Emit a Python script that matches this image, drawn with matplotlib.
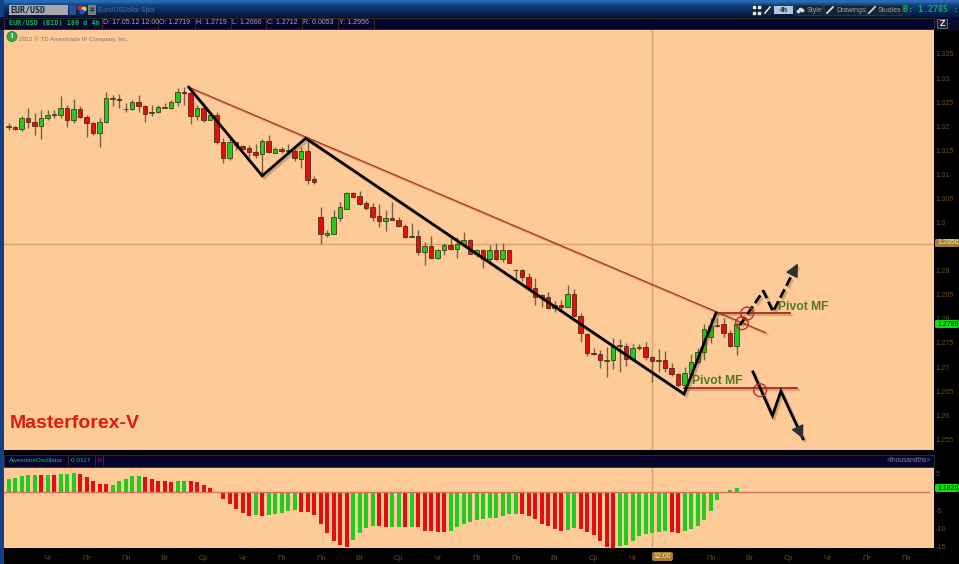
import numpy as np
import matplotlib
matplotlib.use("Agg")
import matplotlib.pyplot as plt
import matplotlib.patheffects as pe
from matplotlib.patches import Rectangle, Circle, FancyBboxPatch

W, H = 959, 564

# ---- candles: one row per bar = open, high, low, close
opens = [1.3198,1.3199,1.3195,1.3216,1.3208,1.3200,1.3216,1.3223,1.3224,1.3237,1.3213,1.3236,1.3219,1.3206,1.3185,1.3208,1.3256,1.3256,1.3235,1.3235,
 1.3250,1.3241,1.3227,1.3229,1.3238,1.3237,1.3250,1.3270,1.3268,1.3222,1.3237,1.3213,1.3223,1.3168,1.3133,1.3167,1.3159,1.3154,1.3147,1.3142,
 1.3170,1.3145,1.3153,1.3149,1.3149,1.3132,1.3148,1.3090,1.3012,1.2975,1.2977,1.3010,1.3029,1.3062,1.3055,1.3041,1.3032,1.3014,1.3003,1.3009,
 1.3005,1.2993,1.2970,1.2973,1.2939,1.2952,1.2927,1.2942,1.2953,1.2946,1.2955,1.2963,1.2935,1.2944,1.2925,1.2943,1.2925,1.2942,1.2901,1.2902,
 1.2887,1.2865,1.2849,1.2846,1.2822,1.2829,1.2825,1.2852,1.2806,1.2769,1.2730,1.2727,1.2713,1.2714,1.2743,1.2744,1.2716,1.2740,1.2741,1.2721,
 1.2713,1.2714,1.2699,1.2686,1.2663,1.2686,1.2710,1.2731,1.2763,1.2785,1.2789,1.2770,1.2744]
highs = [1.3207,1.3201,1.3222,1.3237,1.3227,1.3234,1.3234,1.3234,1.3263,1.3243,1.3256,1.3241,1.3223,1.3209,1.3216,1.3270,1.3265,1.3267,1.3248,1.3254,
 1.3265,1.3244,1.3243,1.3244,1.3248,1.3254,1.3279,1.3282,1.3279,1.3244,1.3248,1.3230,1.3230,1.3175,1.3175,1.3168,1.3161,1.3161,1.3163,1.3173,
 1.3181,1.3156,1.3156,1.3163,1.3152,1.3157,1.3178,1.3097,1.3033,1.2985,1.3025,1.3043,1.3064,1.3064,1.3066,1.3045,1.3040,1.3039,1.3026,1.3043,
 1.3012,1.2998,1.3000,1.2985,1.2959,1.2972,1.2946,1.2958,1.2967,1.2971,1.2981,1.2965,1.2946,1.2946,1.2953,1.2957,1.2958,1.2943,1.2903,1.2903,
 1.2896,1.2884,1.2852,1.2856,1.2838,1.2839,1.2870,1.2863,1.2813,1.2771,1.2739,1.2735,1.2742,1.2760,1.2758,1.2749,1.2748,1.2748,1.2753,1.2722,
 1.2737,1.2734,1.2708,1.2688,1.2701,1.2728,1.2739,1.2789,1.2801,1.2801,1.2801,1.2777,1.2794]
lows = [1.3192,1.3192,1.3189,1.3196,1.3182,1.3174,1.3213,1.3216,1.3218,1.3199,1.3206,1.3218,1.3177,1.3182,1.3157,1.3207,1.3241,1.3237,1.3230,1.3234,
 1.3230,1.3208,1.3221,1.3227,1.3237,1.3235,1.3241,1.3244,1.3205,1.3213,1.3209,1.3212,1.3164,1.3123,1.3130,1.3151,1.3152,1.3137,1.3133,1.3099,
 1.3144,1.3144,1.3144,1.3144,1.3128,1.3114,1.3081,1.3080,1.2956,1.2969,1.2976,1.3004,1.3029,1.3052,1.3036,1.3025,1.3004,1.2990,1.2982,1.3005,
 1.2990,1.2967,1.2969,1.2933,1.2912,1.2926,1.2924,1.2933,1.2943,1.2926,1.2953,1.2935,1.2928,1.2905,1.2915,1.2922,1.2919,1.2915,1.2883,1.2879,
 1.2860,1.2829,1.2825,1.2821,1.2815,1.2818,1.2824,1.2803,1.2753,1.2722,1.2726,1.2697,1.2680,1.2695,1.2690,1.2702,1.2715,1.2735,1.2715,1.2668,
 1.2690,1.2690,1.2681,1.2659,1.2658,1.2683,1.2708,1.2715,1.2749,1.2784,1.2762,1.2742,1.2725]
closes = [1.3200,1.3195,1.3216,1.3208,1.3200,1.3217,1.3223,1.3225,1.3237,1.3213,1.3235,1.3219,1.3207,1.3185,1.3208,1.3259,1.3259,1.3254,1.3236,1.3251,
 1.3241,1.3226,1.3229,1.3239,1.3239,1.3250,1.3270,1.3268,1.3222,1.3237,1.3213,1.3223,1.3167,1.3133,1.3168,1.3160,1.3153,1.3146,1.3141,1.3169,
 1.3146,1.3153,1.3149,1.3151,1.3133,1.3149,1.3088,1.3084,1.2976,1.2978,1.3011,1.3032,1.3061,1.3054,1.3039,1.3030,1.3012,1.3003,1.3009,1.3006,
 1.2992,1.2969,1.2973,1.2939,1.2951,1.2927,1.2943,1.2953,1.2946,1.2955,1.2963,1.2935,1.2944,1.2925,1.2942,1.2925,1.2942,1.2917,1.2902,1.2887,
 1.2865,1.2846,1.2846,1.2822,1.2829,1.2825,1.2851,1.2805,1.2770,1.2729,1.2727,1.2714,1.2715,1.2742,1.2745,1.2716,1.2740,1.2741,1.2720,1.2713,
 1.2714,1.2698,1.2686,1.2663,1.2687,1.2710,1.2731,1.2779,1.2785,1.2788,1.2770,1.2744,1.2790]

# ---- Awesome Oscillator (thousandths)
ao_values = [3.5,3.9,4.4,4.8,4.8,4.6,4.8,4.8,5.0,5.0,5.2,5.1,4.3,3.1,2.3,2.1,2.0,3.0,3.5,4.4,
 4.4,4.1,3.5,3.1,3.1,2.7,3.1,3.1,3.1,2.7,2.0,1.2,0.0,-1.9,-3.4,-4.6,-5.8,-6.6,-6.5,-6.7,
 -6.3,-6.2,-5.8,-5.4,-5.1,-5.5,-5.6,-6.4,-9.0,-11.5,-13.6,-14.8,-15.2,-13.4,-11.4,-10.0,-9.5,-9.5,-9.8,-9.8,
 -9.7,-9.6,-9.6,-9.7,-10.7,-10.9,-11.0,-11.2,-10.7,-9.8,-8.9,-8.2,-7.7,-7.5,-7.1,-7.1,-6.7,-6.2,-6.0,-6.1,
 -6.6,-7.5,-8.9,-9.5,-10.3,-10.8,-10.5,-9.9,-10.3,-11.0,-12.0,-13.7,-15.3,-15.5,-15.1,-14.7,-13.7,-12.3,-11.7,-11.5,
 -11.1,-10.9,-11.0,-11.3,-10.8,-10.4,-9.4,-7.9,-5.4,-2.3,-0.4,0.6,1.1]
ao_colors = list("gggggrgrgggrrrrrgggggrrrrrggrrrrrrrrrrgrgggggrrrrrrrrggggrrggrgrrrrrgggggggggggrrrrrrrggrrrrrrggggggggrrggggggggg")

# ---- drawings on the chart (bar number, price)
trend_x = [27.7, 39.0, 45.7, 103.9, 108.8]
trend_y = [1.3281, 1.3097, 1.3175, 1.2644, 1.2812]
resist_x = [27.7, 116.5]
resist_y = [1.3281, 1.2771]
pivot_hi_x = [108.8, 120.2]
pivot_hi_y = [1.2812, 1.2812]
pivot_lo_x = [103.9, 121.3]
pivot_lo_y = [1.2656, 1.2656]
up_x = [112.5, 116.1, 117.6, 121.4]
up_y = [1.2787, 1.2858, 1.2815, 1.2915]
down_x = [114.5, 117.5, 118.8, 122.2]
down_y = [1.2690, 1.2599, 1.2650, 1.2551]
circle_x = [113.6, 112.8, 115.6]
circle_y = [1.2811, 1.2791, 1.2652]
cross_bar = 99
cross_price = 1.2956

price_ticks = [1.335,1.33,1.325,1.32,1.315,1.31,1.305,1.3,1.29,1.285,1.28,1.275,1.27,1.265,1.26,1.255]
price_tick_labels = ["1.335","1.33","1.325","1.32","1.315","1.31","1.305","1.3","1.29","1.285","1.28","1.275","1.27","1.265","1.26","1.255"]
ao_ticks = [5,0,-5,-10,-15]
time_labels = ["Чт","Пт","Пн","Вт","Ср","Чт","Пт","Пн","Вт","Ср","Чт","Пт","Пн","Вт","Ср","Чт","","Пн","Вт","Ср","Чт","Пт","Пн"]
time_ticks = [6*k for k in range(1, 24)]

BG = "#fecb98"
GREEN = "#20cc20"
RED = "#e01010"
DIM = "#6a4c22"
SANS = ["Liberation Sans", "DejaVu Sans"]
plt.rcParams["font.family"] = SANS

fig = plt.figure(figsize=(W/100, H/100), dpi=100, facecolor="black")

def rect(l, t, r, b):
    return [l/W, 1-b/H, (r-l)/W, (b-t)/H]

xlim = ((4-8.7)/6.5, (934-8.7)/6.5)
ax = fig.add_axes(rect(4, 30, 934, 450), facecolor=BG)
osc = fig.add_axes(rect(4, 467, 934, 548), facecolor=BG)
ax.set_xlim(xlim); osc.set_xlim(xlim)
ax.set_ylim(1.25278, 1.33997)
osc.set_ylim(-15.55, 6.94)
for a in (ax, osc):
    for s in a.spines.values():
        s.set_visible(False)

idx = np.arange(len(opens))
o, h, l, c = map(np.array, (opens, highs, lows, closes))

ax.axvline(cross_bar, color="#d8a468", lw=1, zorder=1)
ax.axhline(cross_price, color="#d8a468", lw=1, zorder=1)
osc.axvline(cross_bar, color="#d8a468", lw=1, zorder=1)

ax.vlines(idx, l, h, color="#75603f", lw=1, zorder=2)
up = c >= o
ax.bar(idx, np.abs(c-o), bottom=np.minimum(o, c), width=0.68,
       color=[GREEN if u else RED for u in up], edgecolor="#3a1c08", linewidth=0.5, zorder=3)

shadow = [pe.SimpleLineShadow(offset=(1.5, -1.5), alpha=0.3, shadow_color="#6a4a20"), pe.Normal()]
ax.plot(resist_x, resist_y, color="#b02a20", lw=0.9, zorder=4, path_effects=shadow)
ax.plot(pivot_hi_x, pivot_hi_y, color="#a82820", lw=1.3, zorder=4, path_effects=shadow)
ax.plot(pivot_lo_x, pivot_lo_y, color="#a82820", lw=1.3, zorder=4, path_effects=shadow)
ax.plot(trend_x, trend_y, color="black", lw=2.0, zorder=5, path_effects=shadow, solid_joinstyle="miter")
ax.plot(up_x, up_y, color="black", lw=2.0, ls=(0, (3.4, 1.4)), zorder=5, path_effects=shadow)
ax.plot(down_x, down_y, color="black", lw=2.0, zorder=5, path_effects=shadow, solid_joinstyle="miter")
for xs, ys in ((up_x, up_y), (down_x, down_y)):
    start = (xs[-1] - 0.24*(xs[-1]-xs[-2]), ys[-1] - 0.24*(ys[-1]-ys[-2]))
    ax.annotate("", xy=(xs[-1], ys[-1]), xytext=start, zorder=6,
                arrowprops=dict(arrowstyle="-|>", mutation_scale=20, color="#2c3034", lw=1, shrinkA=0, shrinkB=0))
ax.scatter(circle_x, circle_y, s=85, facecolors="none", edgecolors="#c02a20", linewidths=1.0, zorder=6)

green_txt = "#4f7a24"
ax.text(118.3, 1.2825, "Pivot MF", color=green_txt, fontsize=8.7, fontweight="bold", va="center", zorder=7)
ax.text(105.1, 1.2671, "Pivot MF", color=green_txt, fontsize=8.7, fontweight="bold", va="center", zorder=7)
ax.text(0.2, 1.2582, "Masterforex-V", color="#e01a0c", fontsize=14, fontweight="bold", va="center", zorder=7)
ax.text(1.6, 1.33805, "2012 © TD Ameritrade IP Company, Inc.", color="#85765e", fontsize=4.4, va="center", zorder=7)

ax.set_xticks([])
ax.yaxis.tick_right()
ax.set_yticks(price_ticks)
ax.set_yticklabels(price_tick_labels, fontsize=5.3, color=DIM)
ax.tick_params(axis="y", length=0, pad=1)

osc.bar(idx, ao_values, width=0.6, color=[GREEN if k == "g" else RED for k in ao_colors], zorder=2)
osc.axhline(0, color="#d8705a", lw=1, zorder=3, xmax=0.995)
osc.yaxis.tick_right()
osc.set_yticks(ao_ticks)
osc.set_yticklabels([str(t) for t in ao_ticks], fontsize=5.3, color=DIM)
osc.set_xticks(time_ticks)
osc.set_xticklabels(time_labels, fontsize=5.3, color=DIM)
osc.tick_params(axis="both", length=0)
osc.tick_params(axis="y", pad=1)
osc.tick_params(axis="x", pad=5)

# ---- terminal chrome drawn in pixel space
ui = fig.add_axes([0, 0, 1, 1], facecolor="none", zorder=10)
ui.set_xlim(0, W); ui.set_ylim(H, 0); ui.axis("off")

def box(l, t, r, b, fc, ec="none", lw=0.6, z=1):
    ui.add_patch(Rectangle((l, t), r-l, b-t, fc=fc, ec=ec, lw=lw, zorder=z))

def label(x, y, s, color, size=5, weight="normal", ha="left", fam=None, z=5):
    ui.text(x, y, s, color=color, fontsize=size, fontweight=weight, ha=ha, va="center",
            family=fam if fam else SANS, zorder=z)

grad = np.array([[0.16, 0.42, 0.70], [0.07, 0.25, 0.50], [0.05, 0.20, 0.43], [0.03, 0.15, 0.34], [0.02, 0.11, 0.26]])
ui.imshow(grad[:, None, :], extent=(0, W, 17, 0), aspect="auto", interpolation="bilinear", zorder=0)
ui.set_xlim(0, W); ui.set_ylim(H, 0)
box(0, 0, 4, 564, "#143f86", z=0.5)
box(0, 17, 959, 30, "#0a0a30", z=0.6)
box(4, 18, 934, 29, "#06042e", ec="#3b3428", z=0.7)

# symbol box and toolbar
mono = ["DejaVu Sans Mono", "DejaVu Sans"]
box(9, 5, 68, 15, "#a6a8ac")
label(10, 10, "EUR/USD", "#14243c", 6, "bold", fam=mono)
box(69, 5, 76, 15, "#26538e")
ui.scatter([80, 84, 82], [8, 9, 12], s=[7, 7, 7], c=["#e02020", "#f0d020", "#2050e0"], zorder=6)
box(88, 5, 96, 15, "#7c8087")
label(92, 10, "#", "#16202e", 6, "bold", "center")
label(98, 10, "Euro/USDollar Spot", "#5d6f85", 4.7)

# study header cells
label(9, 23, "EUR/USD (BID) 180 d 4h", "#10b860", 4.9, "bold", fam=mono)
for xe, s in ((103, "D: 17.05.12 12:00"), (159, "O: 1.2719"), (196, "H: 1.2719"), (232, "L: 1.2666"), (267, "C: 1.2712"),
              (303, "R: 0.0053"), (339, "Y: 1.2956")):
    ui.plot([xe-1.5, xe-1.5], [18, 29], color="#3b3428", lw=0.6, zorder=3)
    label(xe, 23, s, "#a8aab0", 5)
ui.plot([374, 374], [18, 29], color="#3b3428", lw=0.6, zorder=3)

# right toolbar
for l_, r_ in ((795, 822), (824, 865), (866, 902)):
    box(l_, 5, r_, 15, "#16222f", ec="#2c3844")
label(807, 10, "Style", "#9aa4ae", 5)
label(836, 10, "Drawings", "#9aa4ae", 5)
label(878, 10, "Studies", "#9aa4ae", 5)
box(774, 6, 793, 14, "#b4c6d8")
label(783.5, 10, "4h", "#1c2a3c", 5, "bold", "center")
box(752, 5, 761, 15, "#1a2530"); box(763, 5, 772, 15, "#1a2530")
ui.scatter([754, 759, 754, 759], [7, 7, 13, 13], s=3, c="#e8ecf0", marker="s", zorder=6)
ui.plot([765, 770], [13, 7], color="#e8ecf0", lw=1.1, zorder=6)
ui.scatter([798, 800, 802], [11, 9, 10], s=3, c="#d8dce0", zorder=6)
ui.plot([827, 833], [13, 7], color="#e8ecf0", lw=1.2, zorder=6)
ui.plot([869, 875], [13, 7], color="#c8ccd0", lw=1.4, zorder=6)
label(903, 10, "B: 1.2785", "#10b040", 6, "bold", fam=mono)
label(952, 10, ":", "#10b040", 6, "bold", fam=mono)
box(937, 19, 947, 28, "#22262c", ec="#6a7078")
label(942, 23.5, "Z", "#e8ecf0", 6.5, "bold", "center")

# info icon
ui.add_patch(Circle((12, 36.5), 5, fc="#30a848", ec="#1d7a30", lw=0.5, zorder=6))
label(12, 36.5, "i", "white", 6, "bold", "center", z=7)

# oscillator header
box(4, 455, 934, 467, "#06042e", ec="#3b3428")
label(9, 460.5, "AwesomeOscillator", "#10c860", 4.6)
label(70, 460.5, "-0.0117", "#10c860", 4.6)
label(98, 460.5, "0", "#e02040", 4.6)
for xe in (68, 95, 103):
    ui.plot([xe, xe], [455, 467], color="#4a2c28", lw=0.6, zorder=3)
label(931, 460.5, "<thousandths>", "#7a8a90", 4.8, ha="right")

# side value tags
def tag(y, s, fc, tc, l_=934, r_=959):
    ui.add_patch(FancyBboxPatch((l_+1, y-4), r_-l_-1, 8, boxstyle="round,pad=0,rounding_size=1.5", fc=fc, ec="none", zorder=4))
    label(l_+3, y, s, tc, 5)
tag(243, "1.2956", "#a48034", "#f4ecd8")
tag(324, "1.2789", "#12dc12", "#063006")
tag(488, "1.1826", "#12dc12", "#063006")
ui.add_patch(FancyBboxPatch((652, 552), 21, 9, boxstyle="round,pad=0,rounding_size=2", fc="#a87c2c", ec="none", zorder=4))
label(662.5, 556.5, "12:00", "#f4e6c8", 5, ha="center")

fig.savefig("out.png", dpi=100, facecolor="black")
